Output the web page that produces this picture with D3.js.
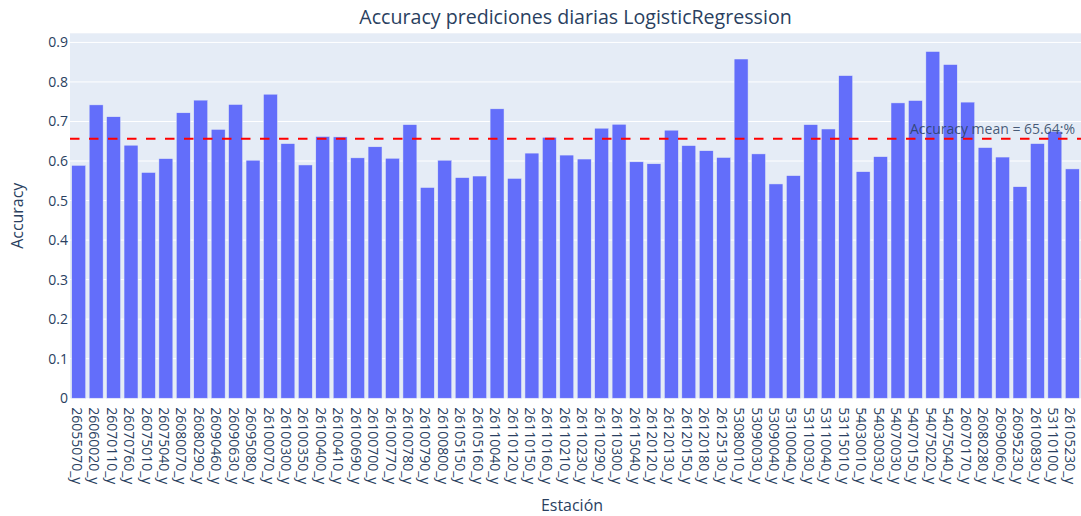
<!DOCTYPE html>
<html>
<head>
<meta charset="utf-8">
<script src="https://cdn.jsdelivr.net/npm/d3@7"></script>
<style>
  html, body { margin: 0; padding: 0; background: #fff; }
  svg { display: block; font-family: "Open Sans", verdana, arial, sans-serif; }
</style>
</head>
<body>
<svg id="chart" width="1081" height="516"></svg>
<script>
// Stations (x categories)
const stations = [
  "26055070_y","26060020_y","26070110_y","26070760_y","26075010_y","26075040_y",
  "26080070_y","26080290_y","26090460_y","26090630_y","26095080_y","26100070_y",
  "26100300_y","26100350_y","26100400_y","26100410_y","26100690_y","26100700_y",
  "26100770_y","26100780_y","26100790_y","26100800_y","26105150_y","26105160_y",
  "26110040_y","26110120_y","26110150_y","26110160_y","26110210_y","26110230_y",
  "26110290_y","26110300_y","26115040_y","26120120_y","26120130_y","26120150_y",
  "26120180_y","26125130_y","53080010_y","53090030_y","53090040_y","53100040_y",
  "53110030_y","53110040_y","53115010_y","54030010_y","54030030_y","54070030_y",
  "54070150_y","54075020_y","54075040_y","26070170_y","26080280_y","26090060_y",
  "26095230_y","26100830_y","53110100_y","26105230_y"
];

// Daily prediction accuracy per station
const accuracy = [
  0.589, 0.742, 0.712, 0.640, 0.571, 0.606,
  0.722, 0.754, 0.680, 0.743, 0.602, 0.769,
  0.644, 0.590, 0.662, 0.661, 0.608, 0.636,
  0.607, 0.692, 0.533, 0.602, 0.558, 0.562,
  0.732, 0.556, 0.620, 0.660, 0.615, 0.605,
  0.683, 0.693, 0.598, 0.593, 0.678, 0.639,
  0.626, 0.609, 0.858, 0.618, 0.542, 0.563,
  0.692, 0.681, 0.816, 0.573, 0.611, 0.747,
  0.753, 0.877, 0.844, 0.749, 0.634, 0.610,
  0.535, 0.644, 0.675, 0.580
];

const meanAccuracy = 0.6564;
const meanLabel = "Accuracy mean = 65.64:%";
const yTicks = [0, 0.1, 0.2, 0.3, 0.4, 0.5, 0.6, 0.7, 0.8, 0.9];
const titleText = "Accuracy prediciones diarias LogisticRegression";
const xTitle = "Estación";
const yTitle = "Accuracy";

const svg = d3.select("#chart");
const W = 1081, H = 516;
const m = { left: 70, right: 0, top: 33.3, bottom: 117.8 };
const pw = W - m.left - m.right;
const ph = H - m.top - m.bottom;
const textColor = "#2a3f5f";
const baseFont = 14;

const x = d3.scaleBand().domain(stations).range([m.left, m.left + pw]).paddingInner(0.2).paddingOuter(0.1);
const yMax = d3.max(accuracy) * 1.0525;
const y = d3.scaleLinear().domain([0, yMax]).range([m.top + ph, m.top]);

// Plot background
svg.append("rect")
  .attr("x", m.left).attr("y", m.top)
  .attr("width", pw).attr("height", ph)
  .attr("fill", "#E5ECF6");

// Horizontal gridlines
svg.append("g").selectAll("line").data(yTicks.filter(d => d > 0)).join("line")
  .attr("x1", m.left).attr("x2", m.left + pw)
  .attr("y1", d => y(d)).attr("y2", d => y(d))
  .attr("stroke", "#fff").attr("stroke-width", 1);

// Bars
svg.append("g").selectAll("rect").data(stations).join("rect")
  .attr("x", (d) => x(d))
  .attr("width", x.bandwidth())
  .attr("y", (d, i) => y(accuracy[i]))
  .attr("height", (d, i) => y(0) - y(accuracy[i]))
  .attr("fill", "#636EFA")
  .attr("stroke", "#E5ECF6").attr("stroke-width", 0.5);

// Mean reference line
svg.append("line")
  .attr("x1", m.left).attr("x2", m.left + pw)
  .attr("y1", y(meanAccuracy)).attr("y2", y(meanAccuracy))
  .attr("stroke", "red").attr("stroke-width", 2)
  .attr("stroke-dasharray", "9.5,9.5");

svg.append("text")
  .attr("x", m.left + pw - 6).attr("y", y(meanAccuracy) - 5)
  .attr("text-anchor", "end")
  .attr("font-size", baseFont).attr("fill", textColor).attr("fill-opacity", 0.85)
  .text(meanLabel);

// Y axis
const yAxis = d3.axisLeft(y).tickValues(yTicks).tickSize(0).tickPadding(2)
  .tickFormat(d => d === 0 ? "0" : d3.format(".1f")(d));
const gy = svg.append("g").attr("transform", `translate(${m.left},0)`).call(yAxis);
gy.select(".domain").remove();
gy.selectAll("text").attr("font-size", baseFont).attr("fill", textColor)
  .attr("font-family", "'Open Sans', verdana, arial, sans-serif");

// X axis with vertical labels
const xAxis = d3.axisBottom(x).tickSize(0).tickPadding(0);
const gx = svg.append("g").attr("transform", `translate(0,${m.top + ph})`).call(xAxis);
gx.select(".domain").remove();
gx.selectAll("text")
  .attr("font-size", baseFont).attr("fill", textColor)
  .attr("font-family", "'Open Sans', verdana, arial, sans-serif")
  .attr("text-anchor", "start")
  .attr("dy", "0.35em")
  .attr("transform", "translate(-2,9) rotate(90)");

// Title
svg.append("text")
  .attr("x", 575.5).attr("y", 24)
  .attr("text-anchor", "middle")
  .attr("font-size", baseFont * 1.4).attr("fill", textColor)
  .text(titleText);

// Axis titles
svg.append("text")
  .attr("x", 572).attr("y", 511)
  .attr("text-anchor", "middle")
  .attr("font-size", baseFont * 1.14).attr("fill", textColor)
  .text(xTitle);

svg.append("text")
  .attr("transform", `translate(23,${m.top + ph / 2}) rotate(-90)`)
  .attr("text-anchor", "middle")
  .attr("font-size", baseFont * 1.14).attr("fill", textColor)
  .text(yTitle);
</script>
</body>
</html>
